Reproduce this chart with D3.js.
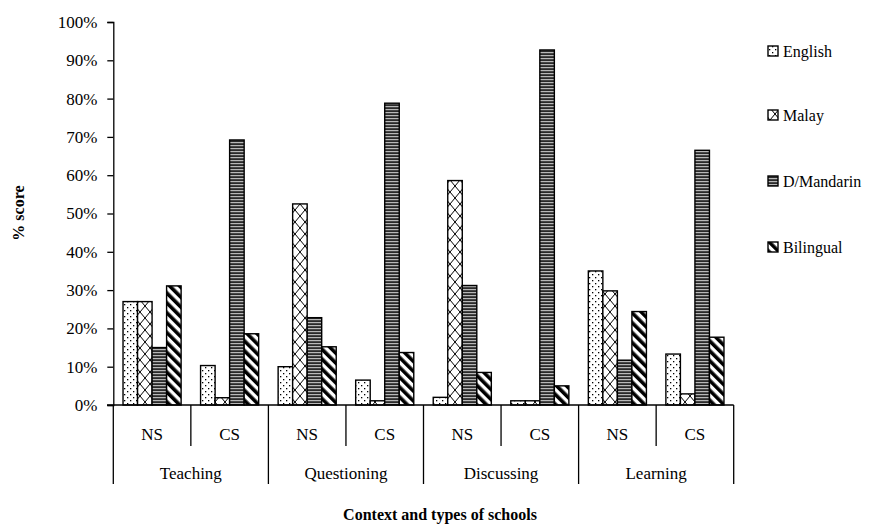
<!DOCTYPE html>
<html><head><meta charset="utf-8">
<script src="https://cdn.jsdelivr.net/npm/d3@7"></script>
<style>
body{margin:0;background:#fff;}
svg text{font-family:"Liberation Serif","Times New Roman",serif !important;fill:#000;}
</style></head>
<body>
<svg id="chart" width="871" height="531"></svg>
<script>
const contexts = ["Teaching","Questioning","Discussing","Learning"];
const schools = ["NS","CS"];
const series = ["English","Malay","D/Mandarin","Bilingual"];
const English   = [27, 10.3, 10, 6.5, 2, 1.1, 35, 13.3];
const Malay     = [27, 1.9, 52.5, 1.1, 58.6, 1.1, 29.8, 2.9];
const Mandarin  = [15, 69.2, 22.8, 78.8, 31.2, 92.7, 11.7, 66.5];
const Bilingual = [31.1, 18.6, 15.2, 13.7, 8.5, 5, 24.4, 17.7];
const yTicks = [0,10,20,30,40,50,60,70,80,90,100];

const FONT = "Liberation Serif";
const valuesBySeries = [English, Malay, Mandarin, Bilingual];
const cats = [];
contexts.forEach(c => schools.forEach(s => cats.push(c + "|" + s)));

const svg = d3.select("#chart");
const defs = svg.append("defs");

// Patterns
const pDots = defs.append("pattern").attr("id","pat0").attr("patternUnits","userSpaceOnUse").attr("width",6).attr("height",6);
pDots.append("rect").attr("width",6).attr("height",6).attr("fill","#fff");
pDots.append("rect").attr("x",1).attr("y",1).attr("width",1.3).attr("height",1.3).attr("fill","#000");
pDots.append("rect").attr("x",4).attr("y",4).attr("width",1.3).attr("height",1.3).attr("fill","#000");

const pLat = defs.append("pattern").attr("id","pat1").attr("patternUnits","userSpaceOnUse").attr("width",10).attr("height",12);
pLat.append("rect").attr("width",10).attr("height",12).attr("fill","#fff");
pLat.append("path").attr("d","M0,0 L5,6 L0,12 M10,0 L5,6 L10,12").attr("stroke","#000").attr("stroke-width",1).attr("fill","none");

const pH = defs.append("pattern").attr("id","pat2").attr("patternUnits","userSpaceOnUse").attr("width",4).attr("height",3);
pH.append("rect").attr("width",4).attr("height",3).attr("fill","#2a2a2a");
pH.append("rect").attr("y",1).attr("width",4).attr("height",1.2).attr("fill","#b8b8b8");

const pD = defs.append("pattern").attr("id","pat3").attr("patternUnits","userSpaceOnUse").attr("width",7).attr("height",7).attr("patternTransform","rotate(-45)");
pD.append("rect").attr("width",7).attr("height",7).attr("fill","#fff");
pD.append("rect").attr("width",3.6).attr("height",7).attr("fill","#000");

// Scales
const x0 = d3.scaleBand().domain(cats).range([113.3, 733.7]).padding(0);
const x1 = d3.scaleBand().domain(series).range([0, x0.bandwidth()]).paddingInner(0).paddingOuter(0.67);
const y = d3.scaleLinear().domain([0,100]).range([405, 22]);

// Y axis
const yAxis = d3.axisLeft(y).tickValues(yTicks).tickFormat(d => d + "%").tickSize(6).tickPadding(10);
const gy = svg.append("g").attr("transform","translate(113.3,0)").call(yAxis).attr("font-family", FONT);
gy.select(".domain").attr("stroke","#000").attr("stroke-width",1.3);
gy.selectAll(".tick line").attr("stroke","#000").attr("stroke-width",1.3);
gy.selectAll(".tick text").attr("font-family",FONT).style("font-size","17px").attr("fill","#000");

// Bars
const gBars = svg.append("g");
cats.forEach((c, ci) => {
  series.forEach((s, si) => {
    const v = valuesBySeries[si][ci];
    gBars.append("rect")
      .attr("x", x0(c) + x1(s))
      .attr("y", y(v))
      .attr("width", x1.bandwidth())
      .attr("height", y(0) - y(v))
      .attr("fill", "url(#pat" + si + ")")
      .attr("stroke", "#000").attr("stroke-width", 1.4);
  });
});

// X axis baseline
svg.append("line").attr("x1",107).attr("x2",x0.range()[1]).attr("y1",y(0)).attr("y2",y(0)).attr("stroke","#000").attr("stroke-width",1.4);

// Category separators and labels
const bounds = cats.map(c => x0(c)).concat([x0.range()[1]]);
bounds.forEach((bx, i) => {
  const major = (i % 2 === 0);
  svg.append("line").attr("x1",bx).attr("x2",bx).attr("y1",y(0)).attr("y2", major ? 484 : 446)
    .attr("stroke","#000").attr("stroke-width",1.3);
});
cats.forEach(c => {
  svg.append("text").attr("x", x0(c) + x0.bandwidth()/2).attr("y", 440)
    .attr("text-anchor","middle").attr("font-family",FONT).style("font-size","17px").text(c.split("|")[1]);
});
contexts.forEach((c, i) => {
  const xa = x0(c + "|NS"), xb = x0(c + "|CS") + x0.bandwidth();
  svg.append("text").attr("x", (xa + xb)/2).attr("y", 479)
    .attr("text-anchor","middle").attr("font-family",FONT).style("font-size","17px").text(c);
});

// Axis titles
svg.append("text").attr("transform","translate(24,213) rotate(-90)").attr("text-anchor","middle")
  .attr("font-family",FONT).style("font-size","16px").style("font-weight","bold").text("% score");
svg.append("text").attr("x",440).attr("y",520).attr("text-anchor","middle")
  .attr("font-family",FONT).style("font-size","16px").style("font-weight","bold").text("Context and types of schools");

// Legend
const legY = [51, 115, 181, 247];
series.forEach((s, i) => {
  svg.append("rect").attr("x",768).attr("y",legY[i]-5).attr("width",10).attr("height",10)
    .attr("fill","url(#pat" + i + ")").attr("stroke","#000").attr("stroke-width",1.4);
  svg.append("text").attr("x",783).attr("y",legY[i]+5.5).attr("font-family",FONT).style("font-size","16px").text(s);
});
</script>
</body></html>
